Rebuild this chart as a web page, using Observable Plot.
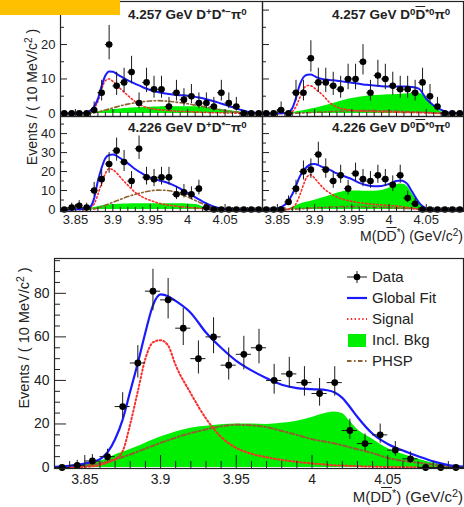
<!DOCTYPE html>
<html>
<head>
<meta charset="utf-8">
<script src="https://cdn.jsdelivr.net/npm/d3@7"></script>
<script src="https://cdn.jsdelivr.net/npm/@observablehq/plot@0.6"></script>
<style>
  body { margin: 0; background: #fff; }
  #fig { position: relative; width: 464px; height: 507px; overflow: hidden; background: #fff;
         font-family: "Liberation Sans", Arial, Helvetica, sans-serif; color: #222; }
  .lbl { position: absolute; white-space: nowrap; line-height: 1; }
  .ptitle { font-weight: bold; font-size: 13.5px; color: #222; }
  .axt { font-size: 14px; color: #222; }
  .ytitle { position: absolute; white-space: nowrap; line-height: 1; font-size: 14px; color: #222;
            transform: translate(-50%, -50%) rotate(-90deg); }
  sup { font-size: 0.72em; vertical-align: 0; position: relative; top: -0.45em; line-height: 0; }
  .ov { text-decoration: overline; }
  .leg { position: absolute; font-size: 15px; line-height: 1; color: #222; white-space: nowrap; }
  #tag { position: absolute; left: 0; top: 0; width: 120px; height: 15px; background: #ffc000; z-index: 10; }
</style>
</head>
<body>
<div id="fig"><div id="tag"></div></div>
<script>
// ---- binning and axes ----
const xDomain = [3.83, 4.10];
const binCenters = [3.835, 3.845, 3.855, 3.865, 3.875, 3.885, 3.895, 3.905, 3.915, 3.925, 3.935, 3.945, 3.955,
  3.965, 3.975, 3.985, 3.995, 4.005, 4.015, 4.025, 4.035, 4.045, 4.055, 4.065, 4.075, 4.085, 4.095];
const xTickValues = [3.85, 3.9, 3.95, 4, 4.05];
const xTickLabels = ["3.85", "3.9", "3.95", "4", "4.05"];
const xMinorTicks = [3.84, 3.86, 3.87, 3.88, 3.89, 3.91, 3.92, 3.93, 3.94, 3.96, 3.97, 3.98, 3.99,
  4.01, 4.02, 4.03, 4.04, 4.06, 4.07, 4.08, 4.09];

const yTopDomain = [-0.9, 32.5], yTopMajor = [0, 10, 20, 30], yTopMinor = [5, 15, 25];
const yMidDomain = [-1.05, 49], yMidMajor = [0, 10, 20, 30, 40], yMidMinor = [5, 15, 25, 35, 45];
const yBotDomain = [-0.45, 96], yBotMajor = [0, 20, 40, 60, 80],
  yBotMinor = [5, 10, 15, 25, 30, 35, 45, 50, 55, 65, 70, 75, 85, 90, 95];

// ---- event counts per 10 MeV bin ----
const n4257Dp = [0,0,0,0,1,6,20,8,9,12,3,9,7,7,2,6,4,5,3,3,2,6,3,2,0,0,0];
const n4257D0 = [0,0,1,0,6,6,16,9,9,8,7,10,10,15,6,11,10,8,7,7,6,9,5,2,0,0,0];
const n4226Dp = [0,1,2,1,10,16,24,31,25,15,32,17,16,17,17,8,9,8,11,1,0,0,0,0,0,0,0];
const n4226D0 = [0,0,0,4,11,20,21,29,21,15,18,11,19,16,15,18,16,13,18,6,3,0,0,0,0,0,0];
const nTotal  = [0,1,3,5,28,48,81,77,64,50,60,47,52,55,40,43,39,34,39,17,11,15,8,4,0,0,0];

// ---- fit components, sampled on a mass grid ----
const grid = [3.83, 3.84, 3.85, 3.86, 3.865, 3.87, 3.875, 3.88, 3.885, 3.89, 3.895, 3.90, 3.905, 3.91,
  3.92, 3.93, 3.94, 3.95, 3.96, 3.97, 3.98, 3.99, 4.00, 4.01, 4.015, 4.02, 4.025, 4.03,
  4.04, 4.05, 4.06, 4.07, 4.08, 4.09, 4.10];

const fit4257Dp  = [0,0,0,0.1,0.3,0.8,2,4.2,8,11,12.2,12.1,11.5,10.8,9.6,8.6,7.6,6.8,6.2,5.8,5.5,5.3,5.1,4.8,4.6,4.4,4.1,3.8,3.2,2.5,1.8,1.1,0.5,0.2,0];
const sig4257Dp  = [0,0,0,0,0.2,0.6,1.5,3.5,7,9.5,10,9.3,8.3,7.2,5.2,3.4,2.1,1.5,1.1,0.9,0.7,0.6,0.5,0.4,0.35,0.3,0.3,0.25,0.2,0.15,0.1,0.05,0,0,0];
const bkg4257Dp  = [0,0,0,0,0.05,0.2,0.35,0.5,0.65,0.8,0.95,1.1,1.2,1.3,1.5,1.65,1.75,1.8,1.85,1.9,1.9,1.9,1.9,1.9,1.85,1.8,1.7,1.6,1.3,1,0.7,0.4,0.2,0.05,0];
const phsp4257Dp = [0,0,0,0,0,0,0.2,0.4,0.7,1,1.3,1.6,1.9,2.2,2.7,3.1,3.4,3.6,3.7,3.6,3.4,3.1,2.8,2.4,2.2,2,1.8,1.6,1.2,0.8,0.5,0.3,0.1,0,0];

const fit4257D0  = [0,0,0,0.1,0.4,1.5,4.5,8.3,10.5,11.2,11.3,10.8,10.3,10,9.7,9.5,9.2,8.9,8.6,8.3,8.1,7.9,7.8,7.8,7.8,7.8,7.8,7.7,7.2,4.2,2.3,1,0.3,0.1,0];
const sig4257D0  = [0,0,0,0,0,0.5,2,4.5,7,8.1,8,7.3,6.4,5.5,3.2,1.8,1.2,0.9,0.7,0.6,0.5,0.45,0.4,0.35,0.3,0.3,0.25,0.25,0.2,0.15,0.05,0,0,0,0];
const bkg4257D0  = [0,0,0,0,0.1,0.2,0.4,0.6,0.8,1,1.25,1.5,1.75,2,2.6,3.2,3.8,4.3,4.7,5,5.2,5.3,5.4,5.5,5.5,5.6,5.7,5.8,5.8,4.6,2.3,0.5,0,0,0];
const phsp4257D0 = [0,0,0,0,0,0,0.05,0.1,0.15,0.2,0.25,0.3,0.35,0.4,0.5,0.6,0.7,0.75,0.8,0.8,0.8,0.75,0.7,0.65,0.6,0.55,0.5,0.45,0.4,0.3,0.15,0.05,0,0,0];

const fit4226Dp  = [0,0,0.1,0.3,0.6,1.5,6,15,22,27,28.7,29,28.3,27,24.3,21.2,18.8,16.8,15.5,14.5,13,11,8.8,6.5,5.3,4.2,3.2,2.3,1,0.4,0.1,0,0,0,0];
const sig4226Dp  = [0,0,0,0,0.3,1,3,8,14,19,21.5,21,19.3,17,12.8,9,6.5,4.8,3.5,2.6,2,1.5,1.1,0.8,0.65,0.5,0.4,0.3,0.1,0,0,0,0,0,0];
const bkg4226Dp  = [0,0,0,0,0,0.5,1,1.5,1.9,2.2,2.4,2.6,2.7,2.8,2.9,3,3,3,3,3,3,3,2.9,2.6,2.2,1.5,0.8,0.3,0,0,0,0,0,0,0];
const phsp4226Dp = [0,0,0,0,0,0,0.3,0.8,1.5,2.2,3,3.8,4.6,5.3,6.8,8,9,9.8,10.2,10.1,9.5,8.2,6.6,4.8,3.9,3,2.2,1.5,0.6,0.1,0,0,0,0,0];

const fit4226D0  = [0,0.1,0.6,2.5,4.7,8,12.5,17.3,20.5,22.6,23.8,24,23.4,22.5,21,19,17.5,16,14,12.8,12.2,12.4,13.5,15,15.3,14.8,13.3,10,3.8,0.6,0,0,0,0,0];
const sig4226D0  = [0,0,0,0,0.3,1,3,7.5,13,17.3,18.3,16.5,14.2,12,8.8,6.6,5.2,4.3,3.6,3.1,2.7,2.4,2.1,1.8,1.6,1.4,1.1,0.8,0.2,0,0,0,0,0,0];
const bkg4226D0  = [0,0,0,0,0.3,1,2,2.8,3.4,3.9,4.4,4.9,5.4,6,7.2,8.6,9.5,9.8,9.8,9.6,9.6,10,11.2,13,13.5,13.2,12,9,3.3,0.4,0,0,0,0,0];
const phsp4226D0 = [0,0,0,0,0,0.1,0.2,0.3,0.45,0.6,0.75,0.9,1,1.1,1.3,1.4,1.5,1.5,1.5,1.4,1.3,1.2,1,0.8,0.7,0.6,0.5,0.4,0.2,0,0,0,0,0,0];

const fitTotal  = [0.3,0.8,1.8,3.8,7,13,22,35,48,62,74.5,79.5,78.7,76.5,71,62,55,49,44.6,41,38,36.5,36,35.5,34.5,32,27.8,23.2,15.5,10.8,7.8,5.2,2.8,1.1,0.4];
const sigTotal  = [0,0.1,0.3,1.2,2.3,3.8,7.5,20,35,50,57.5,58.5,56,47,34,22.5,14,9,6.3,4.7,3.5,2.6,1.9,1.3,1,0.9,0.75,0.6,0.4,0.25,0.15,0.05,0,0,0];
const bkgTotal  = [0,0.3,1.3,2.9,4,5.8,7,8.3,9.7,11.2,12.6,14,15.2,16.3,18,18.9,19.6,20,20,19.8,20.3,21.3,23,25,25.5,24.8,21.2,17.5,13,8.7,6.1,3.9,2,1,0.4];
const phspTotal = [0,0.2,0.8,2,2.8,3.8,4.8,6,7.3,8.7,10,11.3,12.5,13.7,15.8,17.5,18.9,19.6,19.4,18.5,16.8,15,13,11.7,11,10.2,9.3,8.4,6.6,4.4,3.1,2.2,1.4,0.7,0.3];

// ---- styling ----
const colors = {fit: "#1a1aff", sig: "#ff2a2a", bkg: "#00ee00", phsp: "#8f5f30", data: "#000"};
const sigDash = "1.4,2.4";
const phspDash = "4.5,2.5,1.5,2.5";
const legendItems = [
  {key: "data", label: "Data"},
  {key: "fit", label: "Global Fit"},
  {key: "sig", label: "Signal"},
  {key: "bkg", label: "Incl. Bkg"},
  {key: "phsp", label: "PHSP"}
];
const fontStack = '"Liberation Sans", Arial, Helvetica, sans-serif';
const W = 464, H = 507;

// Approximate Poisson (Gehrels) confidence interval on a count
const errHi = n => Math.sqrt(n + 0.75) + 1;
const errLo = n => Math.sqrt(Math.max(n - 0.25, 0));

const chDp = 'D<sup>+</sup>D<sup>*−</sup>π<sup>0</sup>';
const chD0 = 'D<sup>0</sup><span class="ov">D</span><sup>*0</sup>π<sup>0</sup>';

const panels = [
  {title: "4.257 GeV " + chDp, counts: n4257Dp, fit: fit4257Dp, sig: sig4257Dp, bkg: bkg4257Dp, phsp: phsp4257Dp,
   frame: [60, 1, 262, 116], yDom: yTopDomain, yMaj: yTopMajor, yMin: yTopMinor, yLabels: true, xLabels: false, at: [128, 8]},
  {title: "4.257 GeV " + chD0, counts: n4257D0, fit: fit4257D0, sig: sig4257D0, bkg: bkg4257D0, phsp: phsp4257D0,
   frame: [262, 1, 463, 116], yDom: yTopDomain, yMaj: yTopMajor, yMin: yTopMinor, yLabels: false, xLabels: false, at: [332, 8]},
  {title: "4.226 GeV " + chDp, counts: n4226Dp, fit: fit4226Dp, sig: sig4226Dp, bkg: bkg4226Dp, phsp: phsp4226Dp,
   frame: [60, 116, 262, 211], yDom: yMidDomain, yMaj: yMidMajor, yMin: yMidMinor, yLabels: true, xLabels: true, at: [128, 121]},
  {title: "4.226 GeV " + chD0, counts: n4226D0, fit: fit4226D0, sig: sig4226D0, bkg: bkg4226D0, phsp: phsp4226D0,
   frame: [262, 116, 463, 211], yDom: yMidDomain, yMaj: yMidMajor, yMin: yMidMinor, yLabels: false, xLabels: true, at: [332, 121]}
];
const small = {font: 13, xPad: 3, yPad: 5, xMaj: 7, xMin: 4, yMaj: 7, yMin: 4, r: 3.3, lw: 2, sw: 1.6};
const large = {font: 14, xPad: 6, yPad: 5, xMaj: 13, xMin: 7, yMaj: 12, yMin: 6, r: 3.4, lw: 2.2, sw: 2};

function drawPanel(p, s) {
  const [x0, y0, x1, y1] = p.frame;
  const fw = x1 - x0, fh = y1 - y0;
  const pts = binCenters.map((x, i) => ({x, n: p.counts[i]}));
  const rows = grid.map((x, i) => ({x, fit: p.fit[i], sig: p.sig[i], bkg: p.bkg[i], phsp: p.phsp[i]}));
  const curve = "monotone-x";
  const svg = Plot.plot({
    width: W, height: H,
    marginLeft: x0, marginRight: W - x1, marginTop: y0, marginBottom: H - y1,
    style: {background: "transparent", overflow: "visible", fontFamily: fontStack, fontSize: s.font + "px", color: "#222"},
    x: p.xLabels
      ? {domain: xDomain, ticks: xTickValues, tickFormat: d => xTickLabels[xTickValues.indexOf(d)], tickSize: 0, tickPadding: s.xPad, label: null}
      : {domain: xDomain, axis: null},
    y: p.yLabels
      ? {domain: p.yDom, ticks: p.yMaj, tickSize: 0, tickPadding: s.yPad, label: null}
      : {domain: p.yDom, axis: null},
    marks: [
      Plot.areaY(rows, {x: "x", y: "bkg", fill: colors.bkg, curve, clip: true}),
      Plot.line(rows, {x: "x", y: "phsp", stroke: colors.phsp, strokeWidth: s.sw, strokeDasharray: phspDash, curve, clip: true}),
      Plot.line(rows, {x: "x", y: "sig", stroke: colors.sig, strokeWidth: s.sw, strokeDasharray: sigDash, curve, clip: true}),
      Plot.line(rows, {x: "x", y: "fit", stroke: colors.fit, strokeWidth: s.lw, curve, clip: true}),
      Plot.tickX(xTickValues, {x: d => d, insetTop: fh - s.xMaj, stroke: "#222"}),
      Plot.tickX(xMinorTicks, {x: d => d, insetTop: fh - s.xMin, stroke: "#222"}),
      Plot.tickY(p.yMaj, {y: d => d, insetRight: fw - s.yMaj, stroke: "#222"}),
      Plot.tickY(p.yMin, {y: d => d, insetRight: fw - s.yMin, stroke: "#222"}),
      Plot.ruleX(pts.filter(d => d.n > 0), {x: "x", y1: d => d.n - errLo(d.n), y2: d => d.n + errHi(d.n), stroke: "#1a1a1a", strokeWidth: 1}),
      Plot.ruleY(pts, {y: "n", x1: d => d.x - 0.005, x2: d => d.x + 0.005, stroke: "#1a1a1a", strokeWidth: 1}),
      Plot.dot(pts, {x: "x", y: "n", r: s.r, fill: colors.data, stroke: "none"}),
      Plot.frame({stroke: "#222", strokeWidth: 1.2})
    ]
  });
  svg.style.position = "absolute";
  svg.style.left = "0px";
  svg.style.top = "0px";
  return svg;
}

const fig = document.getElementById("fig");
const tag = document.getElementById("tag");
function addHTML(cls, html, css) {
  const d = document.createElement("div");
  d.className = cls;
  d.innerHTML = html;
  Object.assign(d.style, css);
  fig.insertBefore(d, tag);
  return d;
}

// four energy/channel panels
for (const p of panels) {
  fig.insertBefore(drawPanel(p, small), tag);
  addHTML("lbl ptitle", p.title, {left: p.at[0] + "px", top: p.at[1] + "px"});
}

// combined spectrum
fig.insertBefore(drawPanel({counts: nTotal, fit: fitTotal, sig: sigTotal, bkg: bkgTotal, phsp: phspTotal,
  frame: [54, 258, 463, 468], yDom: yBotDomain, yMaj: yBotMajor, yMin: yBotMinor, yLabels: true, xLabels: true}, large), tag);

// axis titles
const massTitle = 'M(D<span class="ov">D</span><sup>*</sup>) (GeV/c<sup>2</sup>)';
const yTitle = 'Events / ( 10 MeV/c<sup>2</sup> )';
addHTML("lbl axt", massTitle, {right: "1px", top: "229px", fontSize: "14px"});
addHTML("lbl axt", massTitle, {right: "1px", top: "489px", fontSize: "15px"});
addHTML("ytitle", yTitle, {left: "32px", top: "97px"});
addHTML("ytitle", yTitle, {left: "24px", top: "338px", fontSize: "14.5px"});

// legend
legendItems.forEach((item, i) => {
  const cy = 277 + 21 * i;
  let sw;
  if (item.key === "data") {
    sw = `<line x1="1" y1="7" x2="21" y2="7" stroke="#1a1a1a"/><line x1="11" y1="1" x2="11" y2="13" stroke="#1a1a1a"/><circle cx="11" cy="7" r="3.3" fill="#000"/>`;
  } else if (item.key === "fit") {
    sw = `<line x1="1" y1="7" x2="21" y2="7" stroke="${colors.fit}" stroke-width="2.2"/>`;
  } else if (item.key === "sig") {
    sw = `<line x1="1" y1="7" x2="21" y2="7" stroke="${colors.sig}" stroke-width="2" stroke-dasharray="${sigDash}"/>`;
  } else if (item.key === "bkg") {
    sw = `<rect x="2" y="1" width="18" height="13" fill="${colors.bkg}"/>`;
  } else {
    sw = `<line x1="1" y1="7" x2="21" y2="7" stroke="${colors.phsp}" stroke-width="2" stroke-dasharray="${phspDash}"/>`;
  }
  addHTML("leg", `<svg width="22" height="14" style="display:block">${sw}</svg>`, {left: "346px", top: (cy - 7) + "px"});
  addHTML("leg", item.label, {left: "372px", top: (cy - 8) + "px"});
});
</script>
</body>
</html>
